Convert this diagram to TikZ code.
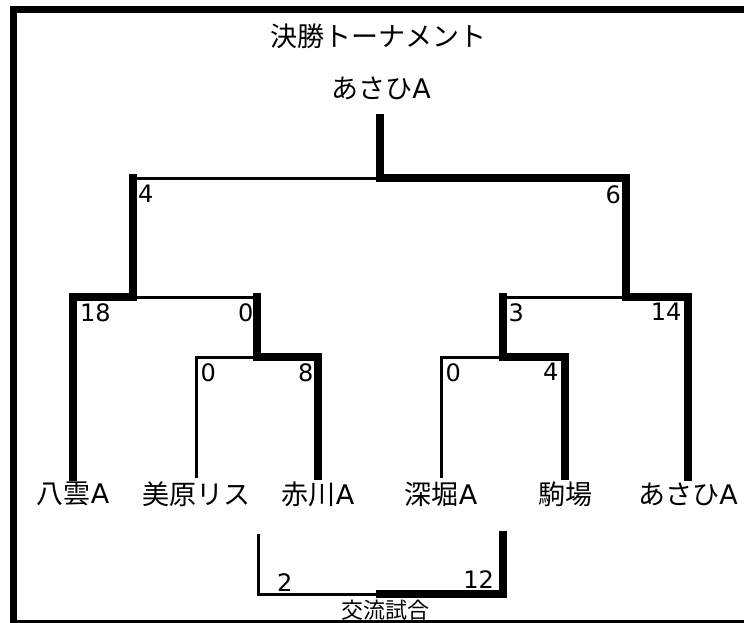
\documentclass[tikz,border=0pt]{standalone}
\usepackage{fontspec}
\setmainfont{Noto Sans CJK JP}
\newfontfamily\latinfont{DejaVu Sans}
\usepackage{tikz}
\newcommand{\la}{{\latinfont A}}
\tikzset{
    team-name/.style = {inner sep=0pt, outer sep=5pt, font=\fontsize{27}{30}\selectfont},
    small-name/.style = {inner sep=0pt, font=\fontsize{22}{26}\selectfont},
    score-label/.style = {inner sep=0pt, font=\latinfont\fontsize{24}{28}\selectfont},
    win-line/.style = {line width=7.5pt, line cap=rect, line join=miter},
    lose-line/.style = {line width=3pt, line cap=rect, line join=miter},
}

\begin{document}
\begin{tikzpicture}[x=1pt, y=-1pt]
\useasboundingbox (0,0) rectangle (744,623);
% frame
\draw[line width=7pt, line join=miter] (744,10) -- (13.5,10) -- (13.5,623);
\draw[line width=3pt] (13.5,621.5) -- (744,621.5);

\node [team-name] (title) at (378,36) {決勝トーナメント};
\node [team-name] (winner) at (381,88) {あさひ\la};

\node [team-name] (yakumo) at (73,494) {八雲\la};
\node [team-name] (mihara) at (196,494) {美原リス};
\node [team-name] (akagawa) at (318,494) {赤川\la};
\node [team-name] (fukahori) at (441,494) {深堀\la};
\node [team-name] (komaba) at (565,494) {駒場};
\node [team-name] (asahi) at (688,494) {あさひ\la};

\coordinate (q-left) at (257,357);
\coordinate (q-right) at (503,357);
\coordinate (s-left) at (133,297);
\coordinate (s-right) at (626,297);
\coordinate (final) at (380,178);
\coordinate (final-top) at (380,118);

% losers
\draw[lose-line] (mihara.north) |- (q-left);
\draw[lose-line] (fukahori.north) |- (q-right);
\draw[lose-line] (q-left |- s-left) -- (s-left);
\draw[lose-line] (q-right |- s-right) -- (s-right);
\draw[lose-line] (s-left |- final) -- (final);
% winners
\draw[win-line] (akagawa.north) |- (q-left) -- (q-left |- s-left);
\draw[win-line] (komaba.north) |- (q-right) -- (q-right |- s-right);
\draw[win-line] (yakumo.north) |- (s-left) -- (s-left |- final);
\draw[win-line] (asahi.north) |- (s-right) |- (final) -- (final-top);

\node[score-label, anchor=north west] (sc-f1) at (138,185) {4};
\node[score-label, anchor=north east] (sc-f2) at (621,185) {6};
\node[score-label, anchor=north west] (sc-s1) at (80,303) {18};
\node[score-label, anchor=north east] (sc-s2) at (253.5,303) {0};
\node[score-label, anchor=north west] (sc-s3) at (508.5,303) {3};
\node[score-label, anchor=north east] (sc-s4) at (681.5,303) {14};
\node[score-label, anchor=north west] (sc-q1) at (200.5,363) {0};
\node[score-label, anchor=north east] (sc-q2) at (313.5,363) {8};
\node[score-label, anchor=north west] (sc-q3) at (445.5,363) {0};
\node[score-label, anchor=north east] (sc-q4) at (558.5,363) {4};

% exchange match
\coordinate (ex-left) at (258,535);
\coordinate (ex-right) at (503,535);
\coordinate (ex-mid) at (380,594);
\draw[lose-line] (ex-left) |- (ex-mid);
\draw[win-line] (ex-right) |- (ex-mid);
\node[score-label, anchor=north west] (sc-e1) at (277,573) {2};
\node[score-label, anchor=north east] (sc-e2) at (494,570) {12};
\node[small-name] (exchange) at (385,610) {交流試合};
\end{tikzpicture}
\end{document}
